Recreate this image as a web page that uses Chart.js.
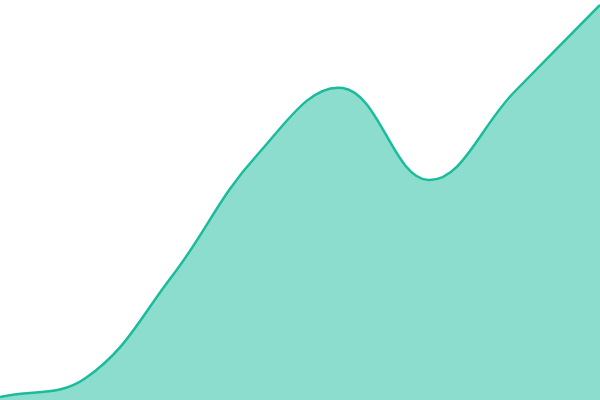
<!DOCTYPE html>
<html>
<head>
<meta charset="utf-8">
<script src="https://cdn.jsdelivr.net/npm/chart.js@4"></script>
<style>
  html, body { margin: 0; padding: 0; background: #fff; }
  #wrap { width: 600px; height: 400px; }
</style>
</head>
<body>
<div id="wrap"><canvas id="areaChart"></canvas></div>
<script>
// Data
var labels = ['1', '2', '3', '4', '5', '6', '7', '8'];
var values = [0.75, 5.5, 30.75, 61.25, 78, 55, 77, 98.75];

var ctx = document.getElementById('areaChart').getContext('2d');

var areaChart = new Chart(ctx, {
    type: 'line',
    data: {
        labels: labels,
        datasets: [{
            data: values,
            borderColor: '#1abc9c',
            backgroundColor: 'rgba(26, 188, 156, 0.5)',
            borderWidth: 2.5,
            fill: 'origin',
            tension: 0.4,
            pointRadius: 0
        }]
    },
    options: {
        responsive: true,
        maintainAspectRatio: false,
        animation: false,
        layout: { padding: 0 },
        plugins: {
            legend: { display: false },
            tooltip: { enabled: false }
        },
        scales: {
            x: { display: false },
            y: { display: false, min: 0, max: 100 }
        }
    }
});
</script>
</body>
</html>
